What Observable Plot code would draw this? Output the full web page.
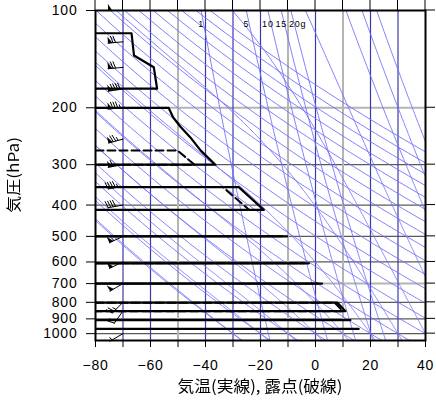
<!DOCTYPE html>
<html><head><meta charset="utf-8">
<script src="https://cdn.jsdelivr.net/npm/d3@7"></script>
<script src="https://cdn.jsdelivr.net/npm/@observablehq/plot@0.6"></script>
<style>html,body{margin:0;padding:0;background:#fff}svg{display:block}</style>
</head><body><div id="chart"></div>
<script>
// ---- axes / ticks ----
const tempDomain = [-80, 40];
const presDomain = [1050, 100];
const xTicks = [-80, -70, -60, -50, -40, -30, -20, -10, 0, 10, 20, 30, 40];
const xTickLabels = ["−80", "", "−60", "", "−40", "", "−20", "", "0", "", "20", "", "40"];
const yTicks = [100, 200, 300, 400, 500, 600, 700, 800, 900, 1000];
const yTickLabels = ["100", "200", "300", "400", "500", "600", "700", "800", "900", "1000"];
const xTitle = "気温(実線), 露点(破線)";
const yTitle = "気圧(hPa)";

// ---- background diagram lines ----
const isotherms = [-70, -60, -40, -30, -20, 0, 20, 30];
const greyIsotherms = [-50, -10, 10];
const isobars = [300, 400, 500, 600, 800, 900, 1000];
const greyIsobars = [200, 700];
const dryT1000 = [-30, -20, -10, 0, 10, 20, 30, 40, 50, 60, 70, 80, 90, 100, 110, 120, 130, 140, 150, 160, 170, 180];
const moistT1000 = [-30, -20, -10, 0, 10, 20, 30, 40, 50, 60, 65, 70];
const mixRatios = [1, 5, 10, 15, 20];
const mixLabels = ["1", "5", "10", "15", "20g"];

// ---- sounding (null = missing) ----
const levels = [100, 117.6, 137.8, 149.8, 174.6, 185, 200, 214, 229, 247, 271, 300, 325, 352, 414, 450, 500, 550, 606, 650, 700, 750, 802, 852, 880, 908, 940, 967];
const temp   = [null, -66.9, -66.0, -58.8, -57.6, null, -53.4, -51.8, -49.1, -45.5, -41.8, -36.4, null, -27.9, -18.8, null, -10.3, null, -2.4, null, 2.4, null, 8.0, 10.9, null, 12.7, null, 15.7];
const dewpt  = [null, null, null, null, null, null, null, null, null, null, -50.2, -44.0, null, -33.7, -24.1, null, -12.0, null, -4.0, null, 1.0, null, 7.0, 10.0, null, 12.0, null, 15.2];

// ---- winds ----
const windP   = [100, 125, 150, 175, 200, 250, 300, 350, 400, 500, 600, 700, 800, 850, 1000];
const windDir = [270, 265, 265, 262, 265, 255, 260, 260, 260, 245, 245, 240, 225, 215, 240];
const windSpd = [50, 70, 70, 90, 85, 75, 60, 45, 40, 55, 50, 50, 25, 20, 5];
const barbBaseT = -70;

// ---- layout ----
const W = 436, H = 411, mL = 95, mR = 11, mT = 10, mB = 71;

// ---- thermodynamics ----
const Rd = 287.04, cp = 1005.7, Lv = 2.5e6, eps = 0.622;
const es = Tc => 6.112 * Math.exp(17.67 * Tc / (Tc + 243.5));
const ws = (Tc, p) => { const e = es(Tc); return eps * e / Math.max(p - e, 1e-3); };
const dTdp = (Tk, p) => { const w = ws(Tk - 273.15, p); return (Rd * Tk + Lv * w) / (p * (cp + Lv * Lv * w * eps / (Rd * Tk * Tk))); };
const rk4 = (T, p, h) => { const k1 = dTdp(T, p), k2 = dTdp(T + h / 2 * k1, p + h / 2), k3 = dTdp(T + h / 2 * k2, p + h / 2), k4 = dTdp(T + h * k3, p + h); return T + h / 6 * (k1 + 2 * k2 + 2 * k3 + k4); };
const pGrid = d3.range(presDomain[1], presDomain[0] + 0.1, 5);

const dryLines = dryT1000.flatMap(t0 => pGrid.map(p => ({id: t0, p, t: (t0 + 273.15) * Math.pow(p / 1000, Rd / cp) - 273.15})));
const moistLines = moistT1000.flatMap(t0 => {
  const up = [{p: 1000, t: t0}]; let T = t0 + 273.15, p = 1000;
  while (p > presDomain[1] + 1e-9) { const h = Math.min(2, p - presDomain[1]); T = rk4(T, p, -h); p -= h; up.push({p, t: T - 273.15}); }
  const down = []; T = t0 + 273.15; p = 1000;
  while (p < presDomain[0] - 1e-9) { T = rk4(T, p, 2); p += 2; down.push({p, t: T - 273.15}); }
  return [...down.reverse(), ...up].map(d => ({...d, id: t0}));
});
const tdFromE = e => { const l = Math.log(e / 6.112); return 243.5 * l / (17.67 - l); };
const mixT = (w, p) => tdFromE(w * p / (622 + w));
const mixLines = mixRatios.flatMap(w => pGrid.map(p => ({id: w, p, t: mixT(w, p)})));
const mixText = mixRatios.map((w, i) => ({p: presDomain[1], t: mixT(w, presDomain[1]), label: mixLabels[i]}));

// ---- sounding segments (missing levels break the trace; the trace returns to the left edge) ----
function trace(vals, name) {
  const out = []; let seg = [], k = 0;
  const flush = () => { if (seg.length) { const s = [{p: seg[0].p, t: tempDomain[0]}, ...seg, {p: seg[seg.length - 1].p, t: tempDomain[0]}]; s.forEach(d => out.push({...d, id: name + k})); k++; } seg = []; };
  levels.forEach((p, i) => { if (vals[i] == null) flush(); else seg.push({p, t: vals[i]}); });
  flush();
  return out;
}
const tTrace = trace(temp, "T"), dTrace = trace(dewpt, "D");

// ---- wind barbs (geometry in pixels, converted to data units) ----
const kx = (tempDomain[1] - tempDomain[0]) / (W - mL - mR);
const ky = Math.log10(presDomain[0] / presDomain[1]) / (H - mT - mB);
const barbSegs = [], barbFlags = [];
windP.forEach((p0, i) => {
  const a = windDir[i] * Math.PI / 180;
  const u = [Math.sin(a), -Math.cos(a)], n = [-u[1], u[0]];
  const pt = (s, q) => ({t: barbBaseT + (s * u[0] + q * n[0]) * kx, p: p0 * Math.pow(10, (s * u[1] + q * n[1]) * ky)});
  const id = "b" + i; let c = 0;
  barbSegs.push({...pt(0, 0), id: id + "s"}, {...pt(15, 0), id: id + "s"});
  let spd = Math.round(windSpd[i] / 5) * 5, pos = 15;
  const n50 = Math.floor(spd / 50); spd -= n50 * 50;
  const n10 = Math.floor(spd / 10); spd -= n10 * 10;
  const n5 = spd >= 5 ? 1 : 0;
  for (let j = 0; j < n50; j++) { const f = id + "f" + (c++); barbFlags.push({...pt(pos, 0), id: f}, {...pt(pos - 4, 0), id: f}, {...pt(pos, 6), id: f}); pos -= 5; }
  if (n50 === 0 && n10 === 0) pos -= 2.5;
  for (let j = 0; j < n10; j++) { const f = id + "l" + (c++); barbSegs.push({...pt(pos, 0), id: f}, {...pt(pos + 2, 6.5), id: f}); pos -= 2.5; }
  for (let j = 0; j < n5; j++) { const f = id + "h" + (c++); barbSegs.push({...pt(pos, 0), id: f}, {...pt(pos + 1, 3.3), id: f}); pos -= 2.5; }
});

const navy = "#3a3aa8", light = "#7070ff", grey = "#b4b4b4", dark = "#5a5a5a";

const chart = Plot.plot({
  width: W, height: H, marginLeft: mL, marginRight: mR, marginTop: mT, marginBottom: mB,
  style: {fontFamily: "'Liberation Sans', Arial, sans-serif", fontSize: "14px", letterSpacing: "0.8px", color: "black", background: "white"},
  x: {domain: tempDomain, ticks: xTicks, tickFormat: d => xTickLabels[xTicks.indexOf(d)], tickSize: 7, tickPadding: 13, label: null},
  y: {type: "log", domain: presDomain, ticks: yTicks, tickFormat: d => yTickLabels[yTicks.indexOf(d)], tickSize: 9, tickPadding: 9, label: null},
  marks: [
    Plot.ruleY(greyIsobars, {stroke: grey, strokeWidth: 2}),
    Plot.ruleY(isobars, {stroke: dark, strokeWidth: 1.2}),
    Plot.ruleX(greyIsotherms, {stroke: grey, strokeWidth: 2}),
    Plot.ruleX(isotherms, {stroke: navy, strokeWidth: 1.2}),
    Plot.line(dryLines, {x: "t", y: "p", z: "id", stroke: light, strokeWidth: 0.9, clip: true}),
    Plot.line(moistLines, {x: "t", y: "p", z: "id", stroke: light, strokeWidth: 0.9, clip: true}),
    Plot.line(mixLines, {x: "t", y: "p", z: "id", stroke: light, strokeWidth: 0.9, clip: true}),
    Plot.text(mixText.slice(0, 4), {x: "t", y: "p", text: "label", dy: 14, fontSize: 9, fill: "black"}),
    Plot.text(mixText.slice(4), {x: "t", y: "p", text: "label", dy: 14, dx: -2, fontSize: 9, fill: "black", textAnchor: "start"}),
    Plot.line(dTrace, {x: "t", y: "p", z: "id", stroke: "black", strokeWidth: 2, strokeDasharray: "8,4", clip: true}),
    Plot.line(tTrace, {x: "t", y: "p", z: "id", stroke: "black", strokeWidth: 2.2, clip: true}),
    Plot.line(barbSegs, {x: "t", y: "p", z: "id", stroke: "black", strokeWidth: 1}),
    Plot.line(barbFlags, {x: "t", y: "p", z: "id", fill: "black", stroke: "black", strokeWidth: 0.5}),
    Plot.frame({stroke: "black", strokeWidth: 2})
  ]
});
document.getElementById("chart").appendChild(chart);

const svg = d3.select(chart);
// mirror ticks on the top and right edges, positioned through the plot's own scales
const sx = chart.scale("x"), sy = chart.scale("y");
const fx = d3.scaleLinear().domain(sx.domain).range(sx.range);
const fy = d3.scaleLog().domain(sy.domain).range(sy.range);
const g = svg.append("g").attr("stroke", "black").attr("stroke-width", 1);
xTicks.forEach(d => g.append("line").attr("x1", fx(d)).attr("x2", fx(d)).attr("y1", mT - 10).attr("y2", mT));
yTicks.forEach(d => g.append("line").attr("x1", W - mR).attr("x2", W - mR + 10).attr("y1", fy(d)).attr("y2", fy(d)));

// axis titles (GrADS-like wide lettering), centred on the plot frame
svg.append("defs").html('<filter id="gray"><feOffset dx="0" dy="0"/></filter>');
function title(text, cx, cy, len, size, rot) {
  const gg = svg.append("g").attr("transform", `translate(${cx},${cy}) rotate(${rot})`).attr("filter", "url(#gray)");
  const t = gg.append("text").text(text).attr("text-anchor", "middle").attr("dominant-baseline", "central")
    .attr("font-family", "'Noto Sans CJK JP', sans-serif").attr("font-size", size).attr("fill", "black").attr("letter-spacing", 0);
  const w = t.node().getComputedTextLength();
  t.attr("transform", `scale(${len / w},1)`);
}
title(xTitle, (mL + W - mR) / 2, 385, 165, 16, 0);
title(yTitle, 12, (mT + H - mB) / 2, 76, 15, -90);
</script></body></html>
